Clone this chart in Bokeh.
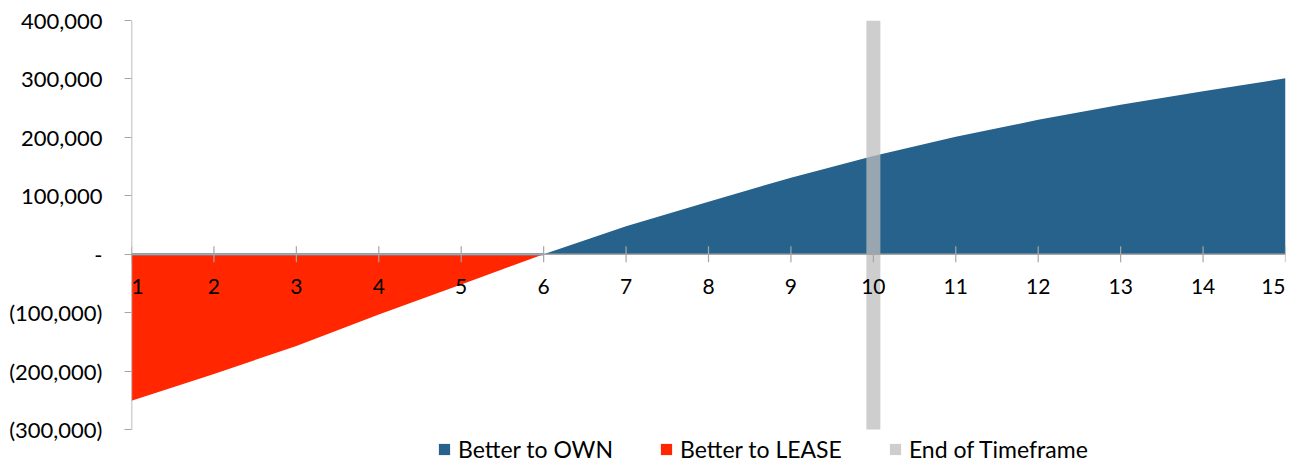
from bokeh.plotting import figure
from bokeh.models import (FixedTicker, CustomJSTickFormatter, Span, Legend, LegendItem,
                          ColumnDataSource, Range1d)
from bokeh.core.properties import value
from bokeh.embed import file_html
from bokeh.resources import INLINE

years = list(range(1, 16))
own = [0, 0, 0, 0, 0, 0, 48000, 90000, 131000, 168000, 201000, 230000, 256000, 279000, 301000]
lease = [-251000, -205000, -157000, -103000, -52000, 0, 0, 0, 0, 0, 0, 0, 0, 0, 0]
end_year = [10]
y_ticks = [-300000, -200000, -100000, 0, 100000, 200000, 300000, 400000]
x_labels = [str(y) for y in years]
y_min, y_max = -300000, 400000

FONT = "Lato"
BLUE = "#26628b"
RED = "#ff2600"
AXIS = "#a6a6a6"

# frame extends below the axis minimum to leave room for the legend
TOP, AXIS_BOTTOM, H = 20, 429, 463
extra = (y_max - y_min) * (H - AXIS_BOTTOM) / (AXIS_BOTTOM - TOP)

p = figure(width=1302, height=H, output_backend="svg", toolbar_location=None,
           x_range=Range1d(1, 15), y_range=Range1d(y_min - extra, y_max),
           min_border_left=131, min_border_right=17, min_border_top=TOP, min_border_bottom=0)
p.outline_line_color = None
p.grid.visible = False
p.background_fill_color = "white"
p.border_fill_color = "white"

zero = [0] * len(years)
src = ColumnDataSource(dict(x=years, own=own, lease=lease, zero=zero))
r_own = p.varea(x="x", y1="zero", y2="own", source=src, fill_color=BLUE)
r_lease = p.varea(x="x", y1="lease", y2="zero", source=src, fill_color=RED)

# zero axis line and own-series line where it is zero
p.add_layout(Span(location=0, dimension="width", line_color=AXIS, line_width=1.5))
p.line(x=years[:6], y=own[:6], line_color="#7497b3", line_width=2.5)

# y axis line (only over the value range)
p.segment(x0=[years[0]], y0=[y_min], x1=[years[0]], y1=[y_max], line_color=AXIS, line_width=1.5)

# end-of-timeframe bar
r_end = p.vbar(x=end_year, top=y_max, bottom=y_min, width=0.17,
               fill_color="#bdbdbd", fill_alpha=0.75, line_color=None)

# x-axis ticks and labels drawn at y=0
p.scatter(x="x", y="zero", source=src, marker="dash", angle=1.5708, size=16,
          line_color=AXIS, line_width=1.2)
txt = dict(text_baseline="middle", y_offset=32, text_font=value(FONT),
           text_font_size="21px", text_color="black")
p.text(x=years[:1], y=zero[:1], text=x_labels[:1], text_align="left", **txt)
p.text(x=years[1:-1], y=zero[1:-1], text=x_labels[1:-1], text_align="center", **txt)
p.text(x=years[-1:], y=zero[-1:], text=x_labels[-1:], text_align="right", **txt)

p.xaxis.visible = False

ya = p.yaxis[0]
ya.ticker = FixedTicker(ticks=y_ticks)
ya.formatter = CustomJSTickFormatter(code="""
    if (tick == 0) return "-";
    const s = Math.abs(tick).toLocaleString('en-US');
    return tick < 0 ? "(" + s + ")" : s;
""")
ya.axis_line_color = None
ya.major_tick_line_color = AXIS
ya.major_tick_out = 7
ya.major_tick_in = 0
ya.minor_tick_line_color = None
ya.major_label_standoff = 22
ya.major_label_text_font = FONT
ya.major_label_text_font_size = "22px"
ya.major_label_text_color = "black"

legend = Legend(items=[
    LegendItem(label="Better to OWN", renderers=[r_own]),
    LegendItem(label="Better to LEASE", renderers=[r_lease]),
    LegendItem(label="End of Timeframe", renderers=[r_end]),
], orientation="horizontal", location=(306, 0), padding=0, margin=0,
    spacing=46, glyph_width=14, glyph_height=14, label_standoff=7,
    label_text_font=FONT, label_text_font_size="23px", label_text_color="black",
    label_height=22, border_line_color=None, background_fill_alpha=0)
p.add_layout(legend, "center")

open("out.html", "w").write(file_html(p, INLINE))
